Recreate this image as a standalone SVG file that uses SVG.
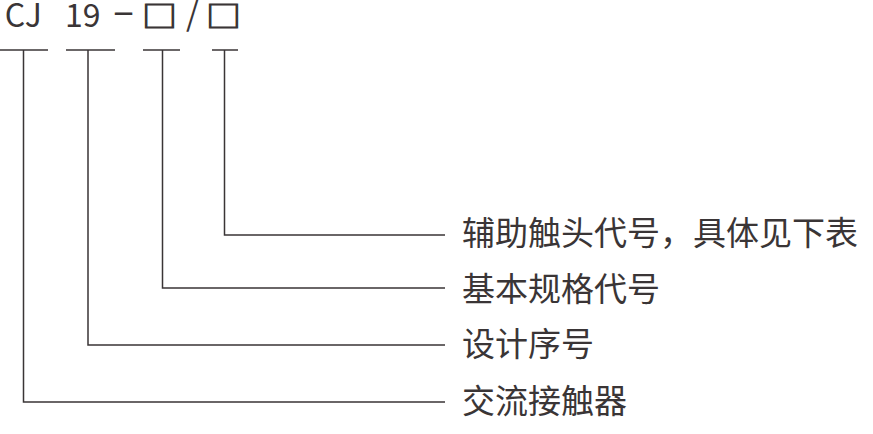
<svg xmlns="http://www.w3.org/2000/svg" width="873" height="434" viewBox="0 0 873 434">
  <style>
    .t { font-family: "Noto Sans CJK SC", "Noto Sans", sans-serif; fill: #3a3536; }
    .code { font-size: 32px; }
    .box { font-size: 35px; stroke: #3a3536; stroke-width: 1.2; }
    .lbl { font-size: 33px; }
    .ln { fill: none; stroke: #3a3536; stroke-width: 1.5; }
  </style>
  <rect width="873" height="434" fill="#ffffff"/>
  <g id="code">
    <text class="t code" x="4.8" y="27">CJ</text>
    <text class="t code" x="65" y="27">19</text>
    <text class="t code" x="113" y="26.6" style="font-family:'Noto Sans',sans-serif;font-size:37px">−</text>
    <text class="t box" transform="translate(142.1,26.7) scale(1,0.85)" x="0" y="0">□</text>
    <text class="t code" x="186" y="26" style="font-size:32.6px">/</text>
    <text class="t box" transform="translate(206.1,26.7) scale(1,0.85)" x="0" y="0">□</text>
  </g>
  <g id="connectors">
    <line class="ln" x1="0" y1="50" x2="48" y2="50"/>
    <line class="ln" x1="66" y1="50" x2="115" y2="50"/>
    <line class="ln" x1="143" y1="50" x2="180" y2="50"/>
    <line class="ln" x1="212" y1="50" x2="238" y2="50"/>
    <polyline class="ln" points="224.5,50 224.5,235 445,235"/>
    <polyline class="ln" points="162.5,50 162.5,288 445,288"/>
    <polyline class="ln" points="88,50 88,345 445,345"/>
    <polyline class="ln" points="23.5,50 23.5,402 445,402"/>
  </g>
  <g id="label-aux">
    <text class="t lbl" x="462" y="244.5">辅助触头代号，具体见下表</text>
  </g>
  <g id="label-spec">
    <text class="t lbl" x="462" y="300.5">基本规格代号</text>
  </g>
  <g id="label-design">
    <text class="t lbl" x="462" y="356">设计序号</text>
  </g>
  <g id="label-type">
    <text class="t lbl" x="462" y="412.5">交流接触器</text>
  </g>
</svg>
